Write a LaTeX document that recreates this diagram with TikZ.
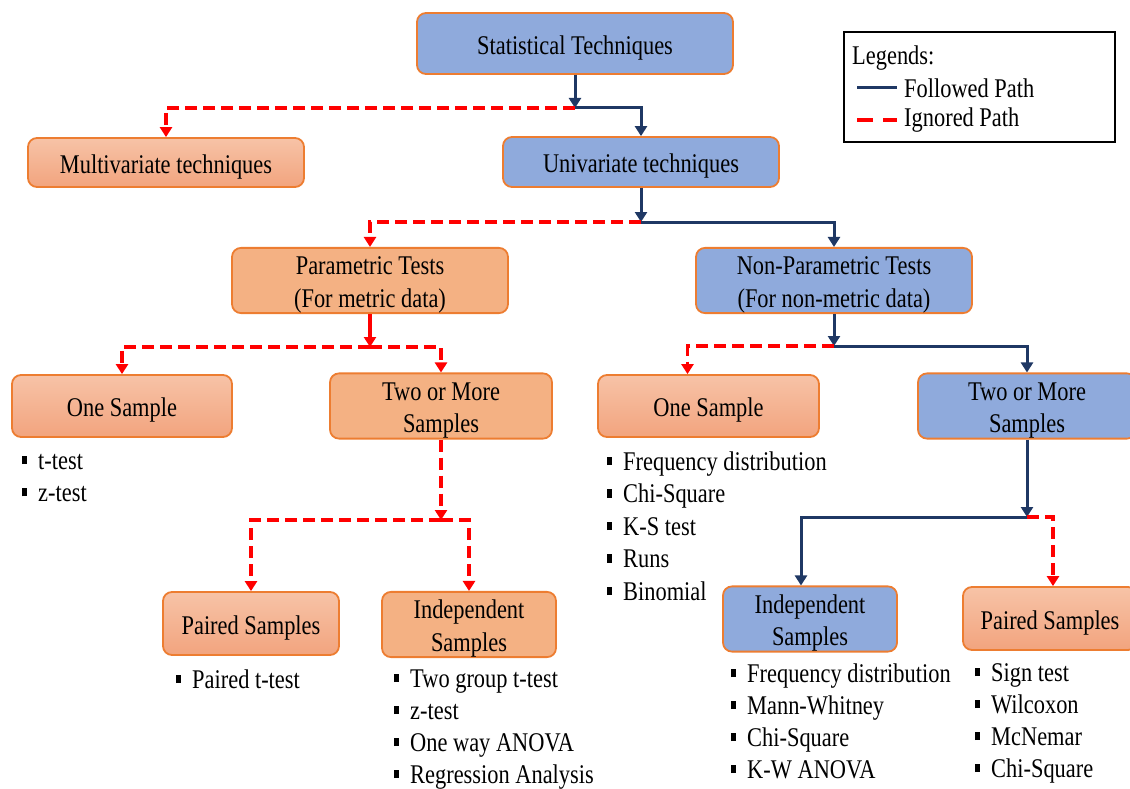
\documentclass[tikz,border=0pt]{standalone}
\usepackage{fontspec}
\setmainfont{Liberation Serif}[FakeStretch=0.83]
\usetikzlibrary{arrows.meta}
\definecolor{myblue}{HTML}{8FAADC}
\definecolor{myorange}{HTML}{F4B183}
\definecolor{orangetop}{HTML}{F7C3A7}
\definecolor{orangebot}{HTML}{F2A47E}
\definecolor{myborder}{HTML}{ED7D31}
\definecolor{mynavy}{HTML}{1F3864}
\tikzstyle{block} = [rectangle, draw=myborder, line width=1.8pt, align=center, rounded corners=9pt, inner sep=0pt]
\tikzstyle{blueblock} = [block, fill=myblue]
\tikzstyle{orangeblock} = [block, fill=myorange]
\tikzstyle{shadedblock} = [block, top color=orangetop, bottom color=orangebot]
\tikzstyle{followed} = [draw=mynavy, line width=3pt]
\tikzstyle{ignored} = [draw=red, line width=3.5pt, dash pattern=on 12pt off 6pt]
\tikzstyle{item} = [anchor=base west, inner sep=0pt]
\newcommand{\st}{\rule{0pt}{27pt}}
\newcommand{\sq}{\makebox[16pt][l]{\rule[5pt]{5pt}{8.5pt}}}

\begin{document}
\begin{tikzpicture}[x=1pt, y=-1pt, >={Triangle[width=12pt,length=10pt]}, font=\fontsize{27}{32.5}\selectfont]
    \useasboundingbox (0,0) rectangle (1130,789);
    % Nodes
    \node [blueblock, minimum width=316, minimum height=61] (stat) at (575,43.5) {\st Statistical Techniques};
    \node [shadedblock, minimum width=276, minimum height=49] (multi) at (166,162.5) {\st Multivariate techniques};
    \node [blueblock, minimum width=276, minimum height=50] (uni) at (641,162) {\st Univariate techniques};
    \node [orangeblock, minimum width=276, minimum height=65] (param) at (370,280.5) {\st Parametric Tests\\(For metric data)};
    \node [blueblock, minimum width=276, minimum height=65] (nonparam) at (834,280.5) {\st Non-Parametric Tests\\(For non-metric data)};
    \node [shadedblock, minimum width=220, minimum height=62] (onesample_p) at (122,406) {\st One Sample};
    \node [orangeblock, minimum width=222, minimum height=62] (twomore_p) at (441,406) {\st Two or More\\Samples};
    \node [shadedblock, minimum width=221, minimum height=62] (onesample_np) at (708.5,406) {\st One Sample};
    \node [blueblock, minimum width=218, minimum height=62] (twomore_np) at (1027,406) {\st Two or More\\Samples};
    \node [shadedblock, minimum width=176, minimum height=63] (paired_p) at (251,623.5) {\st Paired Samples};
    \node [orangeblock, minimum width=174, minimum height=63] (indep_p) at (469,624.5) {\st Independent\\Samples};
    \node [blueblock, minimum width=174, minimum height=62] (indep_np) at (810,619) {\st Independent\\Samples};
    \node [shadedblock, minimum width=174, minimum height=63] (paired_np) at (1050,618.5) {\st Paired Samples};

    % test lists
    \foreach \txt [count=\i] in {t-test, z-test}
        \node [item] (list_os_p-\i) at (22,469+32.3*\i-32.3) {\sq\txt};
    \node [item] (list_pa_p-1) at (176,688) {\sq Paired t-test};
    \foreach \txt [count=\i] in {Two group t-test, z-test, One way ANOVA, Regression Analysis}
        \node [item] (list_in_p-\i) at (394,687+32*\i-32) {\sq\txt};
    \foreach \txt [count=\i] in {Frequency distribution, Chi-Square, K-S test, Runs, Binomial}
        \node [item] (list_os_np-\i) at (607,470+32.5*\i-32.5) {\sq\txt};
    \foreach \txt [count=\i] in {Frequency distribution, Mann-Whitney, Chi-Square, K-W ANOVA}
        \node [item] (list_in_np-\i) at (731,682+32*\i-32) {\sq\txt};
    \foreach \txt [count=\i] in {Sign test, Wilcoxon, McNemar, Chi-Square}
        \node [item] (list_pa_np-\i) at (975,681+32*\i-32) {\sq\txt};

    % junctions
    \coordinate (j1) at (stat.south |- 0,108);
    \coordinate (j2) at (uni.south |- 0,222);
    \coordinate (j3) at (param.south |- 0,347);
    \coordinate (j4) at (nonparam.south |- 0,346);
    \coordinate (j5) at (twomore_p.south |- 0,520);
    \coordinate (j6) at (twomore_np.south |- 0,517);

    % arrows
    \draw[followed, ->] (stat.south) -- (j1);
    \draw[ignored, ->] (j1) -| (multi.north);
    \draw[followed, ->] (j1) -| (uni.north);

    \draw[followed, ->] (uni.south) -- (j2);
    \draw[ignored, ->] (j2) -| (param.north);
    \draw[followed, ->] (j2) -| (nonparam.north);

    \draw[ignored, solid, ->] (param.south) -- (j3);
    \draw[ignored, ->] (j3) -| (onesample_p.north);
    \draw[ignored, ->] (j3) -| (twomore_p.north);

    \draw[followed, ->] (nonparam.south) -- (j4);
    \draw[ignored, ->] (j4) -| ([xshift=-21]onesample_np.north);
    \draw[followed, ->] (j4) -| (twomore_np.north);

    \draw[ignored, ->] (twomore_p.south) -- (j5);
    \draw[ignored, ->] (j5) -| (paired_p.north);
    \draw[ignored, ->] (j5) -| (indep_p.north);

    \draw[followed, ->] (twomore_np.south) -- (j6);
    \draw[followed, ->] (j6) -| ([xshift=-9]indep_np.north);
    \draw[ignored, ->] (j6) -| ([xshift=3]paired_np.north);

    % legend
    \node [draw, line width=1.2pt, minimum width=271, minimum height=110, inner sep=0pt] (legend) at (979.5,87) {};
    \node [anchor=west, inner sep=0pt] (leg_title) at (852,58) {Legends:};
    \node [anchor=west, inner sep=0pt] (leg_followed) at (904,88) {Followed Path};
    \node [anchor=west, inner sep=0pt] (leg_ignored) at (904,120) {Ignored Path};
    \draw[followed] ([xshift=-47]leg_followed.west) -- ([xshift=-7]leg_followed.west);
    \draw[ignored, dash pattern=on 16pt off 10pt] ([xshift=-47]leg_ignored.west) -- ([xshift=-7]leg_ignored.west);
\end{tikzpicture}
\end{document}
